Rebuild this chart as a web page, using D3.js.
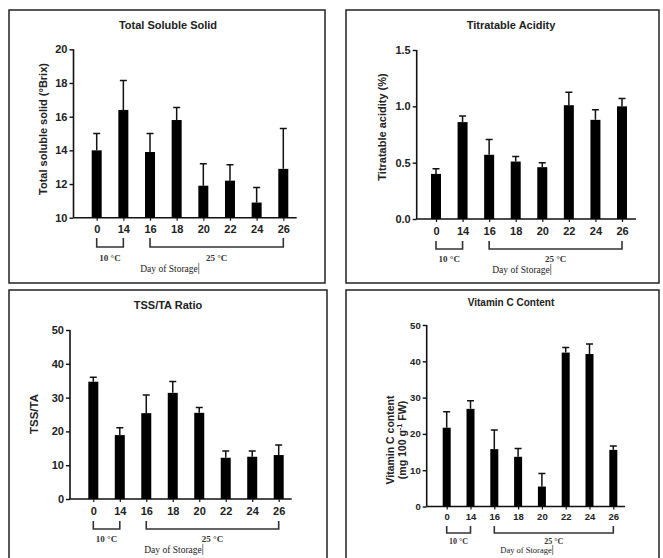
<!DOCTYPE html>
<html>
  <head>
    <meta charset="utf-8">
    <script src="https://d3js.org/d3.v7.min.js"></script>
    <style>
      body { margin: 0; background: #fff; }
      .tick text { font-family: "Liberation Sans", Arial, sans-serif; font-weight: bold; }
    </style>
  </head>
  <body>
    <div id="chart"></div>
    <script>
      // storage days (x categories)
      var days = ["0", "14", "16", "18", "20", "22", "24", "26"];

      // means and standard deviations
      var tssMean = [14.0, 16.4, 13.9, 15.8, 11.9, 12.2, 10.9, 12.9];
      var tssSd   = [1.0, 1.75, 1.1, 0.75, 1.3, 0.95, 0.9, 2.4];

      var taMean = [0.40, 0.86, 0.57, 0.51, 0.46, 1.01, 0.88, 1.00];
      var taSd   = [0.045, 0.055, 0.135, 0.045, 0.04, 0.115, 0.09, 0.07];

      var ratioMean = [34.7, 18.9, 25.4, 31.4, 25.5, 12.2, 12.5, 13.0];
      var ratioSd   = [1.3, 2.2, 5.4, 3.4, 1.6, 2.0, 1.7, 3.0];

      var vitcMean = [21.7, 26.9, 15.8, 13.7, 5.5, 42.4, 42.0, 15.6];
      var vitcSd   = [4.4, 2.2, 5.3, 2.3, 3.6, 1.4, 2.8, 1.1];

      // tick labels
      var tssTicks = [10, 12, 14, 16, 18, 20];
      var taTicks = [0, 0.5, 1.0, 1.5];
      var tenTicks = [0, 10, 20, 30, 40, 50];

      // bracket groups: [first day, last day, label]
      var groups = [["0", "14", "10 \u00B0C"], ["16", "26", "25 \u00B0C"]];

      var width = 663, height = 558;
      var svg = d3.select("#chart").append("svg")
        .attr("width", width)
        .attr("height", height);

      var ink = "#111";

      function panel(o) {
        var g = svg.append("g");

        // frame
        g.append("rect")
          .attr("x", o.box[0]).attr("y", o.box[1])
          .attr("width", o.box[2]).attr("height", o.box[3])
          .attr("fill", "none").attr("stroke", "#222").attr("stroke-width", 1.5);

        // title
        g.append("text")
          .attr("x", o.titleX).attr("y", o.titleY)
          .attr("text-anchor", "middle")
          .style("font-family", "Liberation Sans, Arial, sans-serif")
          .style("font-weight", "bold")
          .style("font-size", o.titleSize + "px")
          .attr("fill", "#222")
          .text(o.title);

        var x = d3.scalePoint().domain(days).range(o.xr);
        var y = d3.scaleLinear().domain(o.yd).range(o.yr);

        // y axis
        var yAxis = g.append("g")
          .attr("transform", "translate(" + o.ax + ",0)")
          .call(d3.axisLeft(y).tickValues(o.ticks).tickSize(4).tickPadding(2).tickFormat(d3.format(o.fmt)));
        yAxis.select(".domain").attr("stroke", ink).attr("stroke-width", 1.6)
          .attr("d", "M0," + o.yr[0] + "V" + o.yr[1]);
        yAxis.selectAll(".tick line").attr("stroke", ink).attr("stroke-width", 1.4);
        yAxis.selectAll(".tick text").style("font-size", o.tickSize + "px").attr("fill", "#222");

        // x axis
        var xAxis = g.append("g")
          .attr("transform", "translate(0," + o.yr[0] + ")")
          .call(d3.axisBottom(x).tickSize(3).tickPadding(o.xPad));
        xAxis.select(".domain").attr("stroke", ink).attr("stroke-width", 1.6)
          .attr("d", "M" + o.ax + ",0H" + o.xEnd);
        xAxis.selectAll(".tick line").attr("stroke", ink).attr("stroke-width", 1.2);
        xAxis.selectAll(".tick text").style("font-size", o.tickSize + "px").attr("fill", "#222");

        // y title
        var yt = g.append("text")
          .attr("transform", "translate(" + o.ytX + "," + o.ytY + ") rotate(-90)")
          .attr("text-anchor", "middle")
          .style("font-family", "Liberation Sans, Arial, sans-serif")
          .style("font-weight", "bold")
          .style("font-size", o.ytSize + "px")
          .attr("fill", "#222");
        o.yTitle.forEach(function(line, i) {
          var ts = yt.append("tspan").attr("x", 0).attr("dy", i === 0 ? 0 : o.ytSize * 1.12);
          if (Array.isArray(line)) {
            line.forEach(function(part) {
              var p = ts.append("tspan").text(part[0]);
              if (part[1]) p.attr("baseline-shift", "super").style("font-size", (o.ytSize * 0.7) + "px");
            });
          } else {
            ts.text(line);
          }
        });

        var data = days.map(function(d, i) { return { day: d, m: o.mean[i], sd: o.sd[i] }; });

        // error bars (upper only)
        g.selectAll(".err")
          .data(data)
          .enter()
          .append("path")
          .attr("d", function(d) {
            var cx = x(d.day), top = y(d.m + d.sd);
            return "M" + cx + "," + y(d.m) + "V" + top +
              "M" + (cx - 3.5) + "," + top + "H" + (cx + 3.5);
          })
          .attr("fill", "none")
          .attr("stroke", ink)
          .attr("stroke-width", 1.5);

        // bars
        g.selectAll(".bar")
          .data(data)
          .enter()
          .append("rect")
          .attr("x", function(d) { return x(d.day) - o.bw / 2; })
          .attr("width", o.bw)
          .attr("y", function(d) { return y(d.m); })
          .attr("height", function(d) { return y(o.yd[0]) - y(d.m); })
          .attr("fill", "#000");

        // storage temperature brackets
        groups.forEach(function(gr) {
          var x0 = x(gr[0]), x1 = x(gr[1]);
          g.append("path")
            .attr("d", "M" + x0 + "," + o.brTop + "V" + o.brY + "H" + x1 + "V" + o.brTop)
            .attr("fill", "none").attr("stroke", "#333").attr("stroke-width", 1.6);
          g.append("text")
            .attr("x", (x0 + x1) / 2).attr("y", o.brLab)
            .attr("text-anchor", "middle")
            .style("font-family", "Liberation Serif, Times New Roman, serif")
            .style("font-weight", "bold")
            .style("font-size", o.serifSize + "px")
            .attr("fill", "#333")
            .text(gr[2]);
        });

        var dos = g.append("text")
          .attr("x", o.dosX).attr("y", o.dosY)
          .attr("text-anchor", "middle")
          .style("font-family", "Liberation Serif, Times New Roman, serif")
          .style("font-size", (o.serifSize + 0.5) + "px")
          .attr("fill", "#222")
          .text("Day of Storage");
        var len = dos.node().getComputedTextLength();
        g.append("line")
          .attr("x1", o.dosX + len / 2 + 1).attr("x2", o.dosX + len / 2 + 1)
          .attr("y1", o.dosY - o.serifSize).attr("y2", o.dosY + 2)
          .attr("stroke", "#555").attr("stroke-width", 0.8);
      }

      panel({
        box: [9, 10, 316, 273], title: "Total Soluble Solid", titleX: 168, titleY: 29, titleSize: 11,
        xr: [96.7, 283.3], yd: [10, 20], yr: [217.7, 49.3], ax: 73.5, xEnd: 296.7, bw: 10,
        ticks: tssTicks, fmt: "d", tickSize: 11, xPad: 5,
        yTitle: ["Total soluble solid (\u00B0Brix)"], ytX: 47, ytY: 129, ytSize: 11,
        mean: tssMean, sd: tssSd,
        brTop: 238, brY: 247, brLab: 261, dosX: 169, dosY: 272, serifSize: 9
      });

      panel({
        box: [346, 10, 313, 273], title: "Titratable Acidity", titleX: 511, titleY: 29, titleSize: 11,
        xr: [436, 622], yd: [0, 1.5], yr: [219, 50], ax: 416.7, xEnd: 636, bw: 10,
        ticks: taTicks, fmt: ".1f", tickSize: 11, xPad: 5,
        yTitle: ["Titratable acidity (%)"], ytX: 386, ytY: 127, ytSize: 11,
        mean: taMean, sd: taSd,
        brTop: 241, brY: 249, brLab: 262, dosX: 521, dosY: 273, serifSize: 9
      });

      panel({
        box: [9, 290, 318, 275], title: "TSS/TA Ratio", titleX: 168, titleY: 309, titleSize: 11,
        xr: [93.3, 278.7], yd: [0, 50], yr: [499, 330], ax: 70, xEnd: 291.7, bw: 10,
        ticks: tenTicks, fmt: "d", tickSize: 11, xPad: 5,
        yTitle: ["TSS/TA"], ytX: 38, ytY: 414, ytSize: 11.5,
        mean: ratioMean, sd: ratioSd,
        brTop: 521, brY: 529, brLab: 542, dosX: 173, dosY: 553, serifSize: 9
      });

      panel({
        box: [346, 290, 313, 275], title: "Vitamin C Content", titleX: 511, titleY: 306, titleSize: 10,
        xr: [446.7, 613.3], yd: [0, 50], yr: [506.5, 325], ax: 426.7, xEnd: 625, bw: 8,
        ticks: tenTicks, fmt: "d", tickSize: 9.5, xPad: 4,
        yTitle: ["Vitamin C  content", [["(mg 100 g"], ["-1", true], [" FW)"]]], ytX: 394, ytY: 440, ytSize: 10.5,
        mean: vitcMean, sd: vitcSd,
        brTop: 526, brY: 533, brLab: 544, dosX: 526, dosY: 553, serifSize: 8
      });
    </script>
  </body>
</html>
